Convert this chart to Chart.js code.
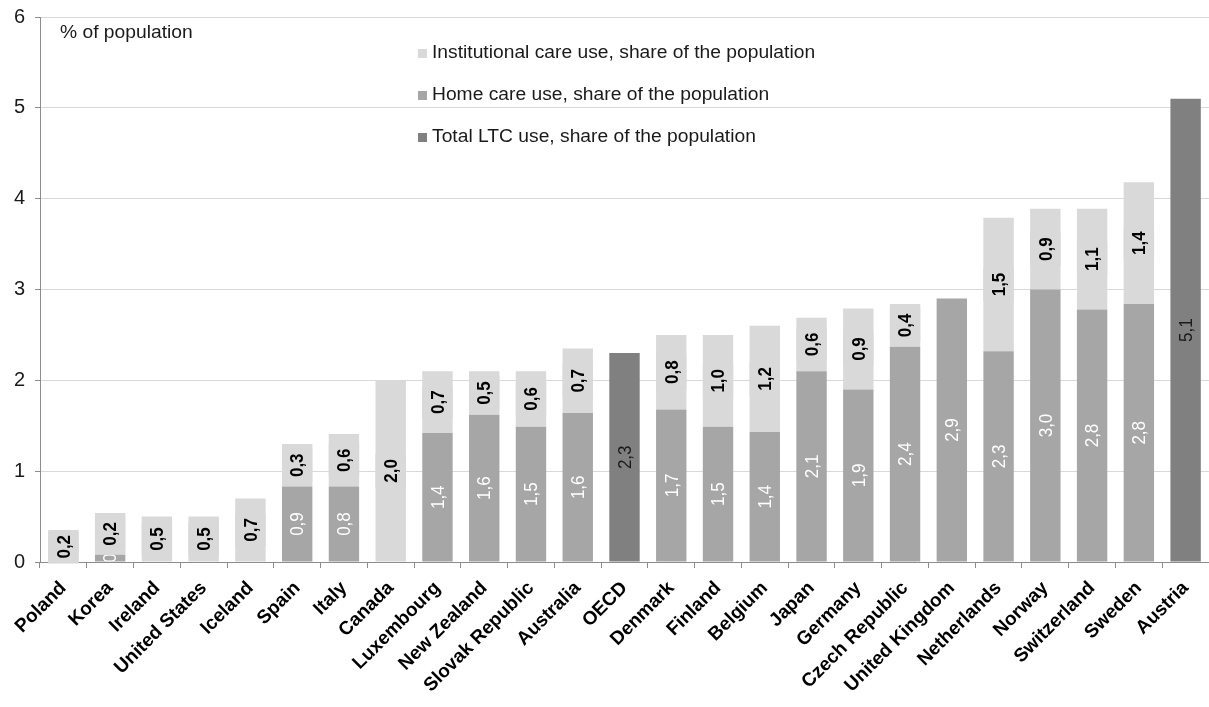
<!DOCTYPE html>
<html>
<head>
<meta charset="utf-8">
<script src="https://cdn.jsdelivr.net/npm/chart.js@4/dist/chart.umd.min.js"></script>
<style>
  html, body { margin: 0; padding: 0; background: #fff; }
  #wrap { position: relative; width: 1209px; height: 707px; }
</style>
</head>
<body>
<div id="wrap"><canvas id="ltc"></canvas></div>
<script>
// categories, sorted by total LTC use
const countries = ["Poland", "Korea", "Ireland", "United States", "Iceland", "Spain", "Italy", "Canada",
  "Luxembourg", "New Zealand", "Slovak Republic", "Australia", "OECD", "Denmark", "Finland", "Belgium",
  "Japan", "Germany", "Czech Republic", "United Kingdom", "Netherlands", "Norway", "Switzerland",
  "Sweden", "Austria"];

// bar heights (% of population)
const homeCare = [null, 0.08, null, null, null, 0.83, 0.83, null,
  1.42, 1.62, 1.49, 1.64, null, 1.68, 1.49, 1.43,
  2.10, 1.90, 2.37, 2.90, 2.32, 3.00, 2.78,
  2.84, null];
const instCare = [0.33, 0.46, 0.50, 0.50, 0.70, 0.47, 0.58, 2.00,
  0.68, 0.48, 0.61, 0.71, null, 0.82, 1.01, 1.17,
  0.59, 0.89, 0.47, null, 1.47, 0.89, 1.11,
  1.34, null];
const totalLtc = [null, null, null, null, null, null, null, null,
  null, null, null, null, 2.30, null, null, null,
  null, null, null, null, null, null, null,
  null, 5.10];

// label texts as printed on the bars
const homeLabels = ["", "0", "", "", "", "0,9", "0,8", "",
  "1,4", "1,6", "1,5", "1,6", "", "1,7", "1,5", "1,4",
  "2,1", "1,9", "2,4", "2,9", "2,3", "3,0", "2,8",
  "2,8", ""];
const instLabels = ["0,2", "0,2", "0,5", "0,5", "0,7", "0,3", "0,6", "2,0",
  "0,7", "0,5", "0,6", "0,7", "", "0,8", "1,0", "1,2",
  "0,6", "0,9", "0,4", "", "1,5", "0,9", "1,1",
  "1,4", ""];
const totalLabels = ["", "", "", "", "", "", "", "",
  "", "", "", "", "2,3", "", "", "",
  "", "", "", "", "", "", "",
  "", "5,1"];

const yTicks = [0, 1, 2, 3, 4, 5, 6];

const FONT = "'Liberation Sans', Arial, sans-serif";
const COL_HOME = "#a6a6a6";
const COL_INST = "#d9d9d9";
const COL_TOTAL = "#808080";
const STRETCH = 1.1;   // the source picture is a little wider than tall

// labels written sideways in the middle of each segment
const barLabels = {
  id: "barLabels",
  afterDatasetsDraw(chart) {
    const g = chart.ctx;
    const specs = [
      { idx: 0, texts: homeLabels, font: "17px " + FONT, color: "#ffffff", clip: true },
      { idx: 1, texts: instLabels, font: "bold 17px " + FONT, color: "#000000", box: COL_INST },
      { idx: 2, texts: totalLabels, font: "17px " + FONT, color: "#1a1a1a", clip: true }
    ];
    specs.forEach(s => {
      const meta = chart.getDatasetMeta(s.idx);
      meta.data.forEach((bar, i) => {
        const t = s.texts[i];
        if (!t || bar.y == null || isNaN(bar.y)) return;
        const cx = bar.x;
        const cy = (bar.y + bar.base) / 2;
        g.save();
        g.font = s.font;
        const tw = g.measureText(t).width;
        if (s.clip) {
          g.beginPath();
          g.rect(bar.x - bar.width / 2, bar.y, bar.width, bar.base - bar.y);
          g.clip();
        }
        if (s.box) {
          g.fillStyle = s.box;
          g.fillRect(cx - bar.width / 2, cy - tw / 2 - 5, bar.width, tw + 10);
        }
        g.translate(cx, cy);
        g.scale(STRETCH, 1);
        g.rotate(-Math.PI / 2);
        g.fillStyle = s.color;
        g.textAlign = "center";
        g.textBaseline = "middle";
        g.fillText(t, 0, 1);
        g.restore();
      });
    });
  }
};

// vertical legend inside the plot + unit note
const sideLegend = {
  id: "sideLegend",
  afterDraw(chart) {
    const g = chart.ctx;
    const a = chart.chartArea;
    const text = (str, x, y) => {
      g.save();
      g.translate(x, y);
      g.scale(STRETCH, 1);
      g.fillText(str, 0, 0);
      g.restore();
    };
    g.save();
    g.font = "17.5px " + FONT;
    g.textBaseline = "middle";
    g.fillStyle = "#1a1a1a";
    text("% of population", a.left + 20, a.top + 16);

    const items = [
      ["Institutional care use, share of the population", COL_INST],
      ["Home care use, share of the population", COL_HOME],
      ["Total LTC use, share of the population", COL_TOTAL]
    ];
    items.forEach((it, k) => {
      const y = a.top + 36 + k * 42;
      g.fillStyle = it[1];
      g.fillRect(a.left + 378, y - 4, 9, 9);
      g.fillStyle = "#1a1a1a";
      text(it[0], a.left + 392, y);
    });
    g.restore();
  }
};

const ds = (label, data, color) => ({
  label: label,
  data: data,
  backgroundColor: color,
  borderWidth: 0,
  barPercentage: 0.65,
  categoryPercentage: 1
});

new Chart(document.getElementById("ltc"), {
  type: "bar",
  data: {
    labels: countries,
    datasets: [
      ds("Home care use, share of the population", homeCare, COL_HOME),
      ds("Institutional care use, share of the population", instCare, COL_INST),
      ds("Total LTC use, share of the population", totalLtc, COL_TOTAL)
    ]
  },
  options: {
    responsive: true,
    maintainAspectRatio: false,
    animation: false,
    layout: { padding: { top: 17, right: 0, left: 0, bottom: 0 } },
    plugins: {
      legend: { display: false },
      tooltip: { enabled: false }
    },
    scales: {
      x: {
        stacked: true,
        afterFit: s => { s.height = 145; s.paddingLeft = 0; s.paddingRight = 0; },
        border: { color: "#8c8c8c", width: 1 },
        grid: { drawOnChartArea: false, drawTicks: true, tickLength: 6, offset: true, color: "#8c8c8c" },
        ticks: {
          minRotation: 45,
          maxRotation: 45,
          autoSkip: false,
          padding: 9,
          color: "#000",
          font: { family: FONT, size: 19, weight: "bold" }
        }
      },
      y: {
        stacked: true,
        min: 0,
        max: 6,
        afterFit: s => { s.width = 40; s.paddingTop = 0; s.paddingBottom = 0; },
        afterBuildTicks: s => { s.ticks = yTicks.map(v => ({ value: v })); },
        border: { color: "#8c8c8c", width: 1 },
        grid: { color: "#d9d9d9", tickColor: "#8c8c8c", tickLength: 5 },
        ticks: {
          padding: 10,
          color: "#1a1a1a",
          font: { family: FONT, size: 20 }
        }
      }
    }
  },
  plugins: [barLabels, sideLegend]
});
</script>
</body>
</html>
